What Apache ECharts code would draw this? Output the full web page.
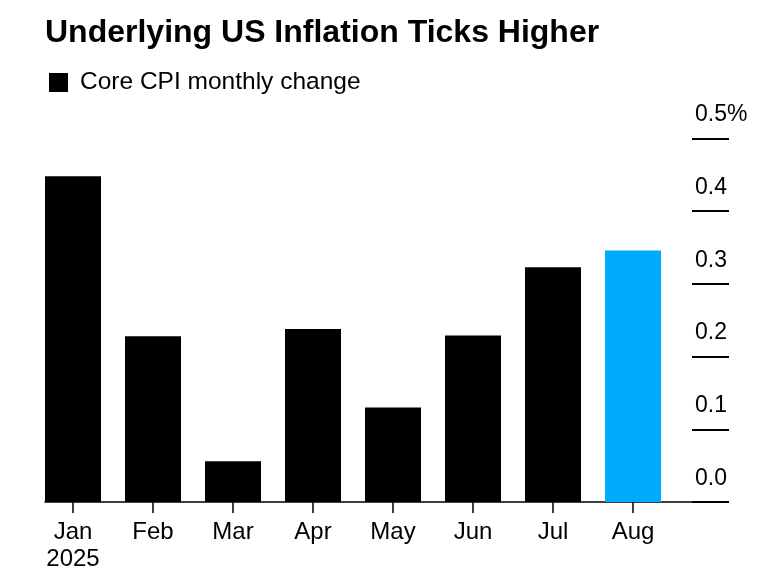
<!DOCTYPE html>
<html>
<head>
<meta charset="utf-8">
<script src="https://cdn.jsdelivr.net/npm/echarts@6/dist/echarts.min.js"></script>
<style>
  html, body { margin: 0; padding: 0; background: #ffffff; }
  #chart { width: 775px; height: 577px; }
</style>
</head>
<body>
<div id="chart"></div>
<script>
const titleText = 'Underlying US Inflation Ticks Higher';
const seriesName = 'Core CPI monthly change';
const months = ['Jan', 'Feb', 'Mar', 'Apr', 'May', 'Jun', 'Jul', 'Aug'];
const yearLabel = '2025';
const coreCpi = [0.448, 0.228, 0.056, 0.238, 0.130, 0.229, 0.323, 0.346];
const highlightIndex = 7;
const yTicks = [0, 0.1, 0.2, 0.3, 0.4, 0.5];

const FONT = '"Liberation Sans", Arial, sans-serif';
const categories = months.map((m, i) => (i === 0 ? m + '\n' + yearLabel : m));

const chart = echarts.init(document.getElementById('chart'), null, { renderer: 'canvas' });

chart.setOption({
  backgroundColor: '#ffffff',
  animation: false,
  title: {
    text: titleText,
    left: 45,
    top: 17,
    padding: 0,
    textStyle: { fontFamily: FONT, fontSize: 32, fontWeight: 'bold', color: '#000000' }
  },
  legend: {
    left: 49,
    top: 70,
    padding: 0,
    icon: 'rect',
    itemWidth: 19,
    itemHeight: 19,
    data: [seriesName],
    selectedMode: false,
    textStyle: { fontFamily: FONT, fontSize: 24.5, color: '#000000', lineHeight: 24, padding: [0, 0, 0, 7] }
  },
  grid: [
    { left: 33, width: 640, top: 138.5, bottom: 75, containLabel: false, outerBoundsMode: 'none' },
    { left: 45, right: 48, top: 138.5, bottom: 75, containLabel: false, outerBoundsMode: 'none' }
  ],
  xAxis: [
    {
      type: 'category',
      gridIndex: 0,
      data: categories,
      axisLine: { show: false },
      axisTick: { show: true, alignWithLabel: true, length: 11, lineStyle: { color: '#000000', width: 1.5 } },
      axisLabel: { fontFamily: FONT, fontSize: 24, color: '#000000', lineHeight: 27, margin: 17, interval: 0 },
      splitLine: { show: false }
    },
    {
      type: 'value',
      gridIndex: 1,
      min: 0,
      max: 1,
      axisLine: { show: true, onZero: false, lineStyle: { color: '#000000', width: 1.5 } },
      axisTick: { show: false },
      axisLabel: { show: false },
      splitLine: { show: false }
    }
  ],
  yAxis: [
    {
      type: 'value',
      gridIndex: 0,
      min: 0,
      max: 0.5,
      interval: 0.1,
      show: false
    },
    {
      type: 'value',
      gridIndex: 1,
      position: 'right',
      offset: 2,
      min: 0,
      max: 0.5,
      interval: 0.1,
      axisLine: { show: false, onZero: false },
      axisTick: { show: true, inside: true, length: 37, lineStyle: { color: '#000000', width: 2 } },
      axisLabel: {
        inside: true,
        margin: 34,
        align: 'left',
        verticalAlign: 'bottom',
        lineHeight: 47,
        fontFamily: FONT,
        fontSize: 23,
        color: '#000000',
        formatter: function (v) {
          const top = yTicks[yTicks.length - 1];
          const s = v.toFixed(1);
          return Math.abs(v - top) < 1e-9 ? s + '%' : s;
        }
      },
      splitLine: { show: false }
    }
  ],
  series: [
    {
      name: seriesName,
      type: 'bar',
      xAxisIndex: 0,
      yAxisIndex: 0,
      barWidth: 56,
      z: 3,
      itemStyle: { color: '#000000' },
      data: coreCpi.map((v, i) => (i === highlightIndex ? { value: v, itemStyle: { color: '#00AAFF' } } : v))
    }
  ]
});
</script>
</body>
</html>
